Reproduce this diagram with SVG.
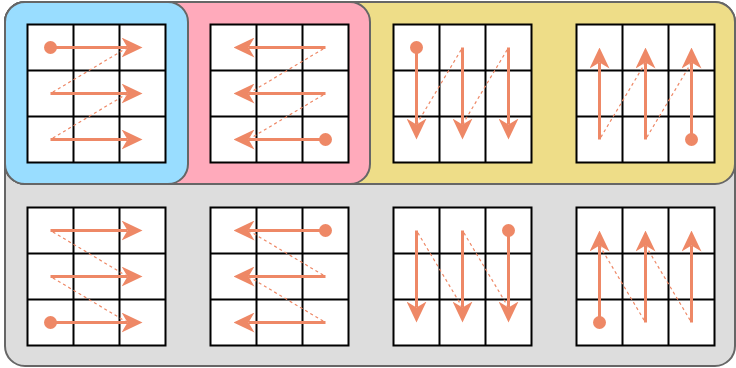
<svg xmlns="http://www.w3.org/2000/svg" xmlns:xlink="http://www.w3.org/1999/xlink" width="736" height="368" viewBox="0 0 736 368">
<style>
.panel{stroke:#666666;stroke-width:2}
.cell{fill:#ffffff;stroke:#000000;stroke-width:2}
.arr{fill:none;stroke:#EE8866;stroke-width:3;marker-end:url(#head)}
.dash{fill:none;stroke:#EE8866;stroke-width:1.2;stroke-dasharray:3 3}
.dot{fill:#EE8866}
</style>
<defs>
<marker id="head" markerUnits="userSpaceOnUse" viewBox="-6 -10 21 20" refX="0" refY="0" markerWidth="21" markerHeight="20" orient="auto">
<path d="M15,0 L-6,-10 L0,0 L-6,10 Z" fill="#EE8866"/>
</marker>
<g id="grid">
<rect class="cell" x="0" y="0" width="138" height="138"/>
<path class="cell" d="M46,0V138M92,0V138M0,46H138M0,92H138"/>
</g>
</defs>
<g id="panels">
<rect class="panel" x="5" y="2" width="730" height="364" rx="20" fill="#DDDDDD"/>
<rect class="panel" x="5" y="2" width="730" height="182" rx="20" fill="#EEDD88"/>
<rect class="panel" x="5" y="2" width="365" height="182" rx="20" fill="#FFAABB"/>
<rect class="panel" x="5" y="2" width="183" height="182" rx="20" fill="#99DDFF"/>
</g>
<g id="grid1"><use xlink:href="#grid" x="27.5" y="24.5"/></g>
<g id="grid2"><use xlink:href="#grid" x="210.5" y="24.5"/></g>
<g id="grid3"><use xlink:href="#grid" x="393.5" y="24.5"/></g>
<g id="grid4"><use xlink:href="#grid" x="576.5" y="24.5"/></g>
<g id="grid5"><use xlink:href="#grid" x="27.5" y="207.5"/></g>
<g id="grid6"><use xlink:href="#grid" x="210.5" y="207.5"/></g>
<g id="grid7"><use xlink:href="#grid" x="393.5" y="207.5"/></g>
<g id="grid8"><use xlink:href="#grid" x="576.5" y="207.5"/></g>
<g id="connectors">
<path class="dash" d="M127.5,47.5L50.5,93.5M127.5,93.5L50.5,139.5"/>
<path class="dash" d="M248.5,139.5L325.5,93.5M248.5,93.5L325.5,47.5"/>
<path class="dash" d="M416.5,124.5L462.5,47.5M462.5,124.5L508.5,47.5"/>
<path class="dash" d="M691.5,62.5L645.5,139.5M645.5,62.5L599.5,139.5"/>
<path class="dash" d="M127.5,322.5L50.5,276.5M127.5,276.5L50.5,230.5"/>
<path class="dash" d="M248.5,230.5L325.5,276.5M248.5,276.5L325.5,322.5"/>
<path class="dash" d="M508.5,307.5L462.5,230.5M462.5,307.5L416.5,230.5"/>
<path class="dash" d="M599.5,245.5L645.5,322.5M645.5,245.5L691.5,322.5"/>

<path class="arr" d="M50.5,47.5H127.5"/><path class="arr" d="M50.5,93.5H127.5"/><path class="arr" d="M50.5,139.5H127.5"/>
<path class="arr" d="M325.5,47.5H248.5"/><path class="arr" d="M325.5,93.5H248.5"/><path class="arr" d="M325.5,139.5H248.5"/>
<path class="arr" d="M416.5,47.5V124.5"/><path class="arr" d="M462.5,47.5V124.5"/><path class="arr" d="M508.5,47.5V124.5"/>
<path class="arr" d="M599.5,139.5V62.5"/><path class="arr" d="M645.5,139.5V62.5"/><path class="arr" d="M691.5,139.5V62.5"/>
<path class="arr" d="M50.5,230.5H127.5"/><path class="arr" d="M50.5,276.5H127.5"/><path class="arr" d="M50.5,322.5H127.5"/>
<path class="arr" d="M325.5,230.5H248.5"/><path class="arr" d="M325.5,276.5H248.5"/><path class="arr" d="M325.5,322.5H248.5"/>
<path class="arr" d="M416.5,230.5V307.5"/><path class="arr" d="M462.5,230.5V307.5"/><path class="arr" d="M508.5,230.5V307.5"/>
<path class="arr" d="M599.5,322.5V245.5"/><path class="arr" d="M645.5,322.5V245.5"/><path class="arr" d="M691.5,322.5V245.5"/>

<circle class="dot" cx="50.5" cy="47.5" r="6.5"/>
<circle class="dot" cx="325.5" cy="139.5" r="6.5"/>
<circle class="dot" cx="416.5" cy="47.5" r="6.5"/>
<circle class="dot" cx="691.5" cy="139.5" r="6.5"/>
<circle class="dot" cx="50.5" cy="322.5" r="6.5"/>
<circle class="dot" cx="325.5" cy="230.5" r="6.5"/>
<circle class="dot" cx="508.5" cy="230.5" r="6.5"/>
<circle class="dot" cx="599.5" cy="322.5" r="6.5"/>
</g>
</svg>
